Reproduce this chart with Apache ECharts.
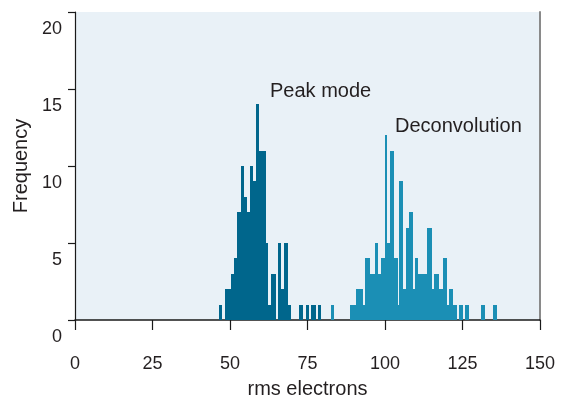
<!DOCTYPE html>
<html><head><meta charset="utf-8">
<script src="https://cdn.jsdelivr.net/npm/echarts@6/dist/echarts.min.js"></script>
<style>html,body{margin:0;padding:0;background:#fff}#c{width:569px;height:399px}</style>
</head><body><div id="c"></div>
<script>
// Histogram bins (x in rms electrons, count = frequency)
const peakStart = [46.3, 48.3, 49.3, 50.2, 51.2, 52.3, 53.4, 54.4, 55.4, 56.3, 57.5, 58.3, 59.5, 60.6, 61.7, 62.4, 63.3, 65.4, 66.6, 67.3, 68.6, 72.4, 74.5, 76.2, 78.3];
const peakEnd   = [47.5, 49.3, 50.2, 51.2, 52.3, 53.4, 54.4, 55.4, 56.3, 57.5, 58.3, 59.5, 60.6, 61.7, 62.4, 63.3, 64.7, 66.6, 67.3, 68.6, 69.8, 73.6, 75.6, 77.6, 79.5];
const peakCount = [1, 2, 2, 3, 4, 7, 10, 8, 7, 10, 9, 14, 11, 11, 5, 1, 3, 5, 2, 5, 1, 1, 1, 1, 1];

const deconStart = [82.6, 88.6, 89.6, 90.5, 91.7, 92.8, 93.7, 95.0, 96.7, 97.9, 98.6, 99.9, 100.8, 101.6, 103.0, 104.1, 104.6, 105.9, 106.7, 107.9, 108.9, 109.6, 110.8, 111.8, 112.8, 113.7, 115.0, 115.8, 117.3, 118.7, 120.1, 120.5, 121.8, 123.8, 125.7, 130.9, 134.7];
const deconEnd   = [83.7, 89.6, 90.5, 91.7, 92.8, 93.7, 95.0, 96.7, 97.9, 98.6, 99.9, 100.8, 101.6, 103.0, 104.1, 104.6, 105.9, 106.7, 107.9, 108.9, 109.6, 110.8, 111.8, 112.8, 113.7, 115.0, 115.8, 117.3, 118.7, 120.1, 120.5, 121.8, 123.1, 125.0, 127.0, 132.2, 136.0];
const deconCount = [1, 1, 1, 2, 2, 1, 4, 3, 5, 3, 4, 12, 5, 11, 4, 1, 9, 2, 6, 7, 2, 4, 3, 3, 3, 6, 2, 3, 2, 4, 1, 2, 1, 1, 1, 1, 1];

const xTicks = [0, 25, 50, 75, 100, 125, 150];
const yTicks = [0, 5, 10, 15, 20];
const seriesNames = ['Peak mode', 'Deconvolution'];

const FONT = '"Liberation Sans", Arial, Helvetica, sans-serif';
const TXT = '#231f20';

function toData(s, e, c) { return s.map((v, i) => [v, e[i], c[i]]); }

function renderBin(params, api) {
  const p0 = api.coord([api.value(0), api.value(2)]);
  const p1 = api.coord([api.value(1), 0]);
  const x0 = Math.round(p0[0]), x1 = Math.round(p1[0]);
  return {
    type: 'rect',
    shape: { x: x0, y: Math.round(p0[1]), width: Math.max(1, x1 - x0), height: p1[1] - Math.round(p0[1]) },
    style: { fill: api.visual('color') }
  };
}

const chart = echarts.init(document.getElementById('c'), null, { renderer: 'canvas' });
chart.setOption({
  animation: false,
  backgroundColor: '#ffffff',
  grid: { left: 75, right: 29, top: 12, bottom: 79, show: true, backgroundColor: '#e9f1f7', borderWidth: 0,
    containLabel: false, outerBoundsMode: 'none' },
  xAxis: {
    type: 'value', min: xTicks[0], max: xTicks[xTicks.length - 1], interval: 25,
    name: 'rms electrons', nameLocation: 'middle', nameGap: 59,
    nameTextStyle: { fontFamily: FONT, fontSize: 20, color: TXT },
    axisLine: { show: true, onZero: false, lineStyle: { color: '#1a1a1a', width: 1.5 } },
    axisTick: { show: true, length: 10, lineStyle: { color: '#1a1a1a', width: 1.2 } },
    axisLabel: { margin: 35, fontFamily: FONT, fontSize: 18, color: TXT },
    splitLine: { show: false }
  },
  yAxis: [{
    type: 'value', min: yTicks[0], max: yTicks[yTicks.length - 1], interval: 5,
    name: 'Frequency', nameLocation: 'middle', nameGap: 39,
    nameTextStyle: { fontFamily: FONT, fontSize: 20, color: TXT },
    axisLine: { show: true, lineStyle: { color: '#1a1a1a', width: 1.2 } },
    axisTick: { show: true, length: 7, lineStyle: { color: '#1a1a1a', width: 1.2 } },
    axisLabel: { margin: 13, fontFamily: FONT, fontSize: 18, color: TXT, verticalAlign: 'middle', lineHeight: 17,
      formatter: v => '\n\n' + v },
    splitLine: { show: false }
  }, {
    type: 'value', min: 0, max: 20, position: 'right',
    axisLine: { show: true, lineStyle: { color: '#8a8a8a', width: 2 } },
    axisTick: { show: false }, axisLabel: { show: false }, splitLine: { show: false }
  }],
  series: [{
    name: seriesNames[0], type: 'custom', renderItem: renderBin,
    encode: { x: [0, 1], y: 2 }, itemStyle: { color: '#00668c' },
    data: toData(peakStart, peakEnd, peakCount)
  }, {
    name: seriesNames[1], type: 'custom', renderItem: renderBin,
    encode: { x: [0, 1], y: 2 }, itemStyle: { color: '#1b8fb5' },
    data: toData(deconStart, deconEnd, deconCount)
  }],
  graphic: [
    { type: 'text', left: 270, top: 81, style: { text: seriesNames[0], font: '20px ' + FONT, fill: TXT } },
    { type: 'text', left: 395, top: 116, style: { text: seriesNames[1], font: '20px ' + FONT, fill: TXT } }
  ]
});
</script></body></html>
